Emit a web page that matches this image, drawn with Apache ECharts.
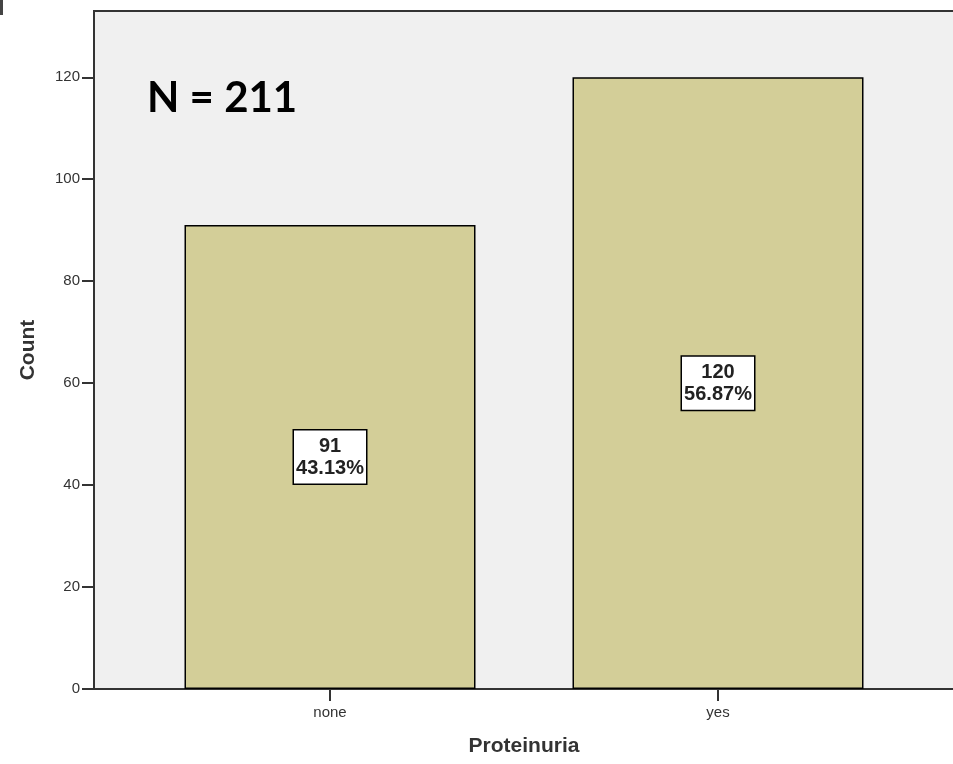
<!DOCTYPE html>
<html>
<head>
<meta charset="utf-8">
<script src="https://cdn.jsdelivr.net/npm/echarts@6/dist/echarts.min.js"></script>
<style>html,body{margin:0;padding:0;background:#fff}#c{width:953px;height:764px}</style>
</head>
<body>
<div id="c"></div>
<script>
var categories = ['none', 'yes'];
var counts = [91, 120];
var percents = ['43.13%', '56.87%'];
var yTicks = [0, 20, 40, 60, 80, 100, 120];
var totalN = 211;

var chart = echarts.init(document.getElementById('c'));
var F = '"Liberation Sans", Arial, sans-serif';
chart.setOption({
  animation: false,
  backgroundColor: '#ffffff',
  grid: [
    {left: 94, width: 920, top: 11, bottom: 75, show: true, backgroundColor: '#F0F0F0', borderColor: '#333', borderWidth: 2, containLabel: false, outerBoundsMode: 'none'},
    {left: 136, right: 41, top: 11, bottom: 75, containLabel: false, outerBoundsMode: 'none'}
  ],
  xAxis: [
    {gridIndex: 0, type: 'value', show: false, min: 0, max: 1},
    {gridIndex: 1, type: 'category', data: categories,
      axisLine: {show: false},
      axisTick: {show: true, alignWithLabel: true, length: 12, lineStyle: {color: '#333', width: 2}},
      axisLabel: {fontSize: 15, color: '#333', fontFamily: F, margin: 16},
      name: 'Proteinuria', nameLocation: 'middle', nameGap: 47,
      nameTextStyle: {fontSize: 21, fontWeight: 'bold', color: '#333', fontFamily: F}
    }
  ],
  yAxis: [
    {gridIndex: 0, type: 'value', min: 0, max: 133, interval: 20,
      axisLine: {show: true, lineStyle: {color: '#333', width: 2}},
      axisTick: {show: true, length: 12, customValues: yTicks, lineStyle: {color: '#333', width: 2}},
      axisLabel: {customValues: yTicks, fontSize: 15, color: '#333', fontFamily: F, margin: 14},
      splitLine: {show: false},
      name: 'Count', nameLocation: 'middle', nameGap: 55,
      nameTextStyle: {fontSize: 21, fontWeight: 'bold', color: '#333', fontFamily: F}
    },
    {gridIndex: 1, type: 'value', min: 0, max: 133, show: false, splitLine: {show: false}}
  ],
  graphic: [
    {type: 'text', left: 147, top: 77, style: {text: 'N = ' + totalN, fontSize: 42, fontWeight: 'bold', fontFamily: 'Lato, "Open Sans", sans-serif', fill: '#000'}},
    {type: 'rect', shape: {x: 0, y: 0, width: 3, height: 15}, style: {fill: '#444'}}
  ],
  series: [{
    type: 'bar', xAxisIndex: 1, yAxisIndex: 1,
    data: counts, barWidth: 291,
    itemStyle: {color: '#D3CE98', borderColor: '#000', borderWidth: 1.5},
    label: {
      show: true, position: 'inside',
      formatter: function (p) { return p.value + '\n' + percents[p.dataIndex]; },
      fontSize: 20, fontWeight: 'bold', fontFamily: F, color: '#222', lineHeight: 22,
      backgroundColor: '#fff', borderColor: '#000', borderWidth: 1.5,
      width: 72, align: 'center', padding: [6, 0, 3, 0]
    }
  }]
});
</script>
</body>
</html>
